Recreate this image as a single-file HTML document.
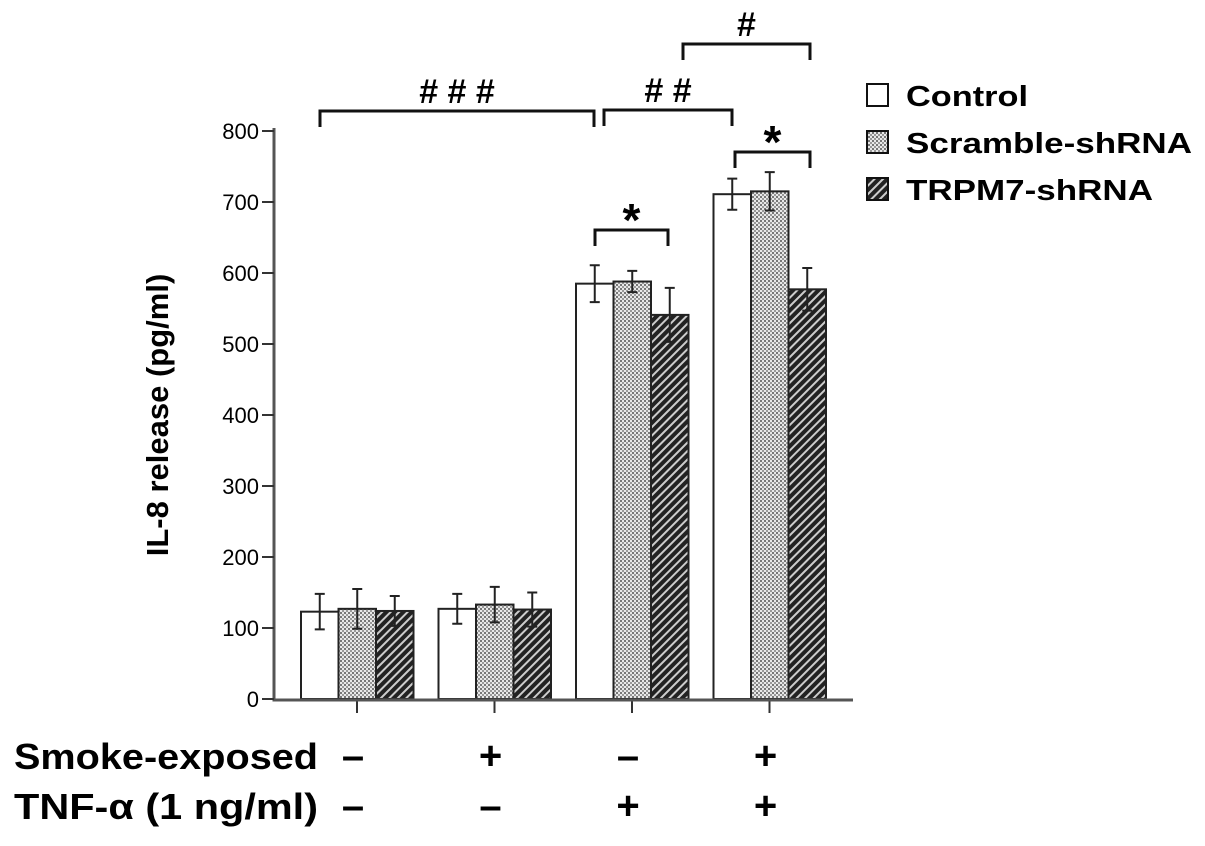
<!DOCTYPE html>
<html><head><meta charset="utf-8"><style>
body{margin:0;background:#fff}
svg text{font-family:"Liberation Sans",Arial,sans-serif}
</style></head><body>
<svg width="1205" height="841" viewBox="0 0 1205 841">
<defs>
<pattern id="dots" width="4" height="4" patternUnits="userSpaceOnUse"><rect width="4" height="4" fill="#e8e8e8"/><rect width="2" height="2" fill="#777"/><rect x="2" y="2" width="2" height="2" fill="#999"/></pattern>
<pattern id="hatch" width="6" height="6" patternUnits="userSpaceOnUse" patternTransform="rotate(45)"><rect width="6" height="6" fill="#222"/><rect width="2" height="6" fill="#ccc"/></pattern>
</defs>
<g id="plot"></g>
<text x="168" y="415" transform="rotate(-90 168 415)" text-anchor="middle" font-size="31" font-weight="bold">IL-8 release (pg/ml)</text>
<g>
<rect x="867" y="84" width="21" height="22" fill="#fff" stroke="#111" stroke-width="2"/>
<text x="906" y="106" font-size="29" font-weight="bold" textLength="122" lengthAdjust="spacingAndGlyphs">Control</text>
<rect x="867" y="131" width="21" height="22" fill="url(#dots)" stroke="#111" stroke-width="2"/>
<text x="906" y="153" font-size="29" font-weight="bold" textLength="286" lengthAdjust="spacingAndGlyphs">Scramble-shRNA</text>
<rect x="867" y="178" width="21" height="22" fill="url(#hatch)" stroke="#111" stroke-width="2"/>
<text x="906" y="200" font-size="29" font-weight="bold" textLength="247" lengthAdjust="spacingAndGlyphs">TRPM7-shRNA</text>
</g>
<text x="14" y="769" font-size="36" font-weight="bold" textLength="304" lengthAdjust="spacingAndGlyphs">Smoke-exposed</text>
<text x="14" y="819" font-size="36" font-weight="bold" textLength="304" lengthAdjust="spacingAndGlyphs">TNF-α (1 ng/ml)</text>
</svg>
<script>
const groups=["g1","g2","g3","g4"];
const control=[123,127,585,711];
const controlErr=[25,21,26,22];
const scramble=[127,133,588,715];
const scrambleErr=[28,25,15,27];
const trpm7=[124,126,541,577];
const trpm7Err=[21,24,38,30];
const yTicks=[0,100,200,300,400,500,600,700,800];
const smoke=["–","+","–","+"];
const tnf=["–","–","+","+"];
const y=v=>699-v*0.71;
const gx=i=>357+i*137.5;
const NS="http://www.w3.org/2000/svg";
const plot=document.getElementById('plot');
function mk(tag,attrs,parent){const e=document.createElementNS(NS,tag);for(const k in attrs)e.setAttribute(k,attrs[k]);(parent||plot).appendChild(e);return e;}
const series=[[control,controlErr,"#fff","control"],[scramble,scrambleErr,"url(#dots)","scramble"],[trpm7,trpm7Err,"url(#hatch)","trpm7"]];
const bw=37.5;
groups.forEach((g,i)=>{
  series.forEach((s,j)=>{
    const x0=gx(i)-56+j*bw, v=s[0][i], e=s[1][i];
    const r=mk('rect',{x:x0,y:y(v),width:bw,height:y(0)-y(v),fill:s[2],stroke:'#222','stroke-width':2});
    
    
    const cx=x0+bw/2;
    const eb=mk('path',{d:`M${cx} ${y(v+e)}V${y(v-e)}M${cx-5} ${y(v+e)}H${cx+5}M${cx-5} ${y(v-e)}H${cx+5}`,stroke:'#222','stroke-width':2,fill:'none'});
    
    
  });
  const t=mk('line',{x1:gx(i),x2:gx(i),y1:700,y2:713,stroke:'#333','stroke-width':2});
  
  
  const a=mk('text',{x:gx(i)-4,y:769,'font-size':40,'font-weight':'bold','text-anchor':'middle'});a.textContent=smoke[i];
  
  
  const b=mk('text',{x:gx(i)-4,y:819,'font-size':40,'font-weight':'bold','text-anchor':'middle'});b.textContent=tnf[i];
  
  
});
const ax=mk('path',{d:'M274 128V700H853',stroke:'#555','stroke-width':3,fill:'none'});


yTicks.forEach(v=>{
  const l=mk('line',{x1:262,x2:274,y1:y(v),y2:y(v),stroke:'#333','stroke-width':2});
  
  
  const t=mk('text',{x:259,y:y(v)+8,'font-size':22,'text-anchor':'end'});t.textContent=v;
  
  
});
const brackets=[[320,594,111,"# # #"],[604,732,110,"# #"],[683,810,44,"#"],[595,668,230,"*"],[735,810,152,"*"]];
brackets.forEach(b=>{
  const p=mk('path',{d:`M${b[0]} ${b[2]+16}V${b[2]}H${b[1]}V${b[2]+16}`,stroke:'#111','stroke-width':3,fill:'none'});
  
  
  const star=b[3]=="*";
  const t=mk('text',{x:(b[0]+b[1])/2,y:b[2]-(star?-6:8),'font-size':star?46:34,'font-weight':'bold','text-anchor':'middle'});t.textContent=b[3];
  
  
});
</script>
</body></html>
